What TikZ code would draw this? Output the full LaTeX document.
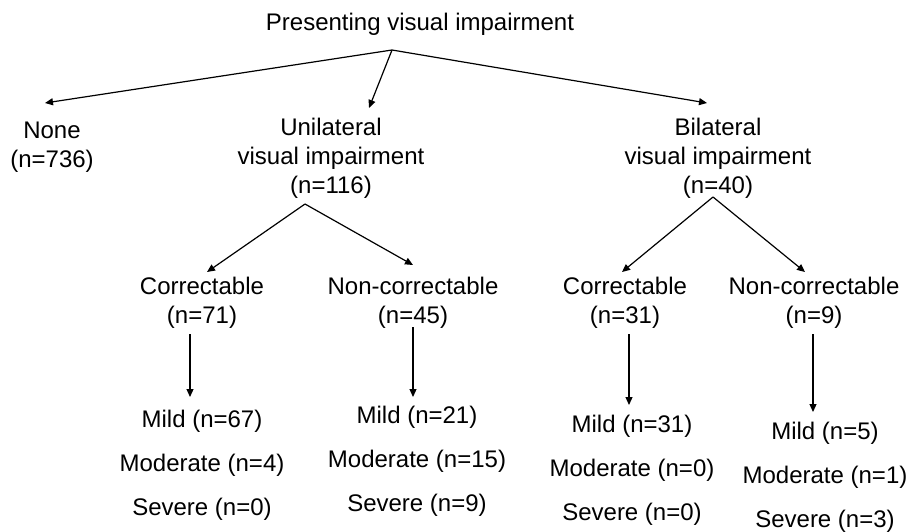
\documentclass[tikz,border=0pt]{standalone}
\usepackage{fontspec}
\setmainfont{Liberation Sans}
\usetikzlibrary{arrows.meta}
\tikzset{
  lbl/.style={align=center,inner sep=0pt,font=\fontsize{24}{29}\selectfont},
  grade/.style={align=center,inner sep=0pt,font=\fontsize{24}{44}\selectfont},
  edge/.style={-{Triangle[length=8pt,width=7pt]},line width=1.2pt},
}
\begin{document}
\begin{tikzpicture}[x=1pt,y=1pt]
  \useasboundingbox (0,0) rectangle (909,-531);
  % ---- top level ----
  \node[lbl] (title) at (420,-24) {Presenting visual impairment};
  \coordinate (rootFork) at (392,-50);
  \node[lbl] (none) at (52,-147) {None\\(n=736)};
  \node[lbl] (uni) at (331,-158) {Unilateral\\visual impairment\\(n=116)};
  \node[lbl] (bil) at (718,-158) {Bilateral\\visual impairment\\(n=40)};
  \coordinate (noneTip) at (45,-103);
  \coordinate (uniTip) at (369,-108);
  \coordinate (bilTip) at (707,-103);
  % ---- unilateral branch ----
  \coordinate (uniFork) at (305,-204);
  \node[lbl] (corrL) at (202,-303) {Correctable\\(n=71)};
  \node[lbl] (nonL) at (413,-303) {Non-correctable\\(n=45)};
  \coordinate (corrLTip) at (207,-272);
  \coordinate (nonLTip) at (413,-265);
  \coordinate (corrLTop) at (190,-334);
  \coordinate (corrLBot) at (190,-397);
  \coordinate (nonLTop) at (413,-327);
  \coordinate (nonLBot) at (413,-397);
  \node[grade] (gradeL1) at (202,-465) {Mild (n=67)\\Moderate (n=4)\\Severe (n=0)};
  \node[grade] (gradeL2) at (417,-461) {Mild (n=21)\\Moderate (n=15)\\Severe (n=9)};
  % ---- bilateral branch ----
  \coordinate (bilFork) at (713,-197);
  \node[lbl] (corrR) at (625,-303) {Correctable\\(n=31)};
  \node[lbl] (nonR) at (814,-303) {Non-correctable\\(n=9)};
  \coordinate (corrRTip) at (622,-272);
  \coordinate (nonRTip) at (805,-272);
  \coordinate (corrRTop) at (629,-334);
  \coordinate (corrRBot) at (629,-405);
  \coordinate (nonRTop) at (813,-334);
  \coordinate (nonRBot) at (813,-412);
  \node[grade] (gradeR1) at (632,-470) {Mild (n=31)\\Moderate (n=0)\\Severe (n=0)};
  \node[grade] (gradeR2) at (825,-477) {Mild (n=5)\\Moderate (n=1)\\Severe (n=3)};
  % ---- edges ----
  \draw[edge] (rootFork) -- (noneTip);
  \draw[edge] (rootFork) -- (uniTip);
  \draw[edge] (rootFork) -- (bilTip);
  \draw[edge] (uniFork) -- (corrLTip);
  \draw[edge] (uniFork) -- (nonLTip);
  \draw[edge] (bilFork) -- (corrRTip);
  \draw[edge] (bilFork) -- (nonRTip);
  \draw[edge] (corrLTop) -- (corrLBot);
  \draw[edge] (nonLTop) -- (nonLBot);
  \draw[edge] (corrRTop) -- (corrRBot);
  \draw[edge] (nonRTop) -- (nonRBot);
\end{tikzpicture}
\end{document}
